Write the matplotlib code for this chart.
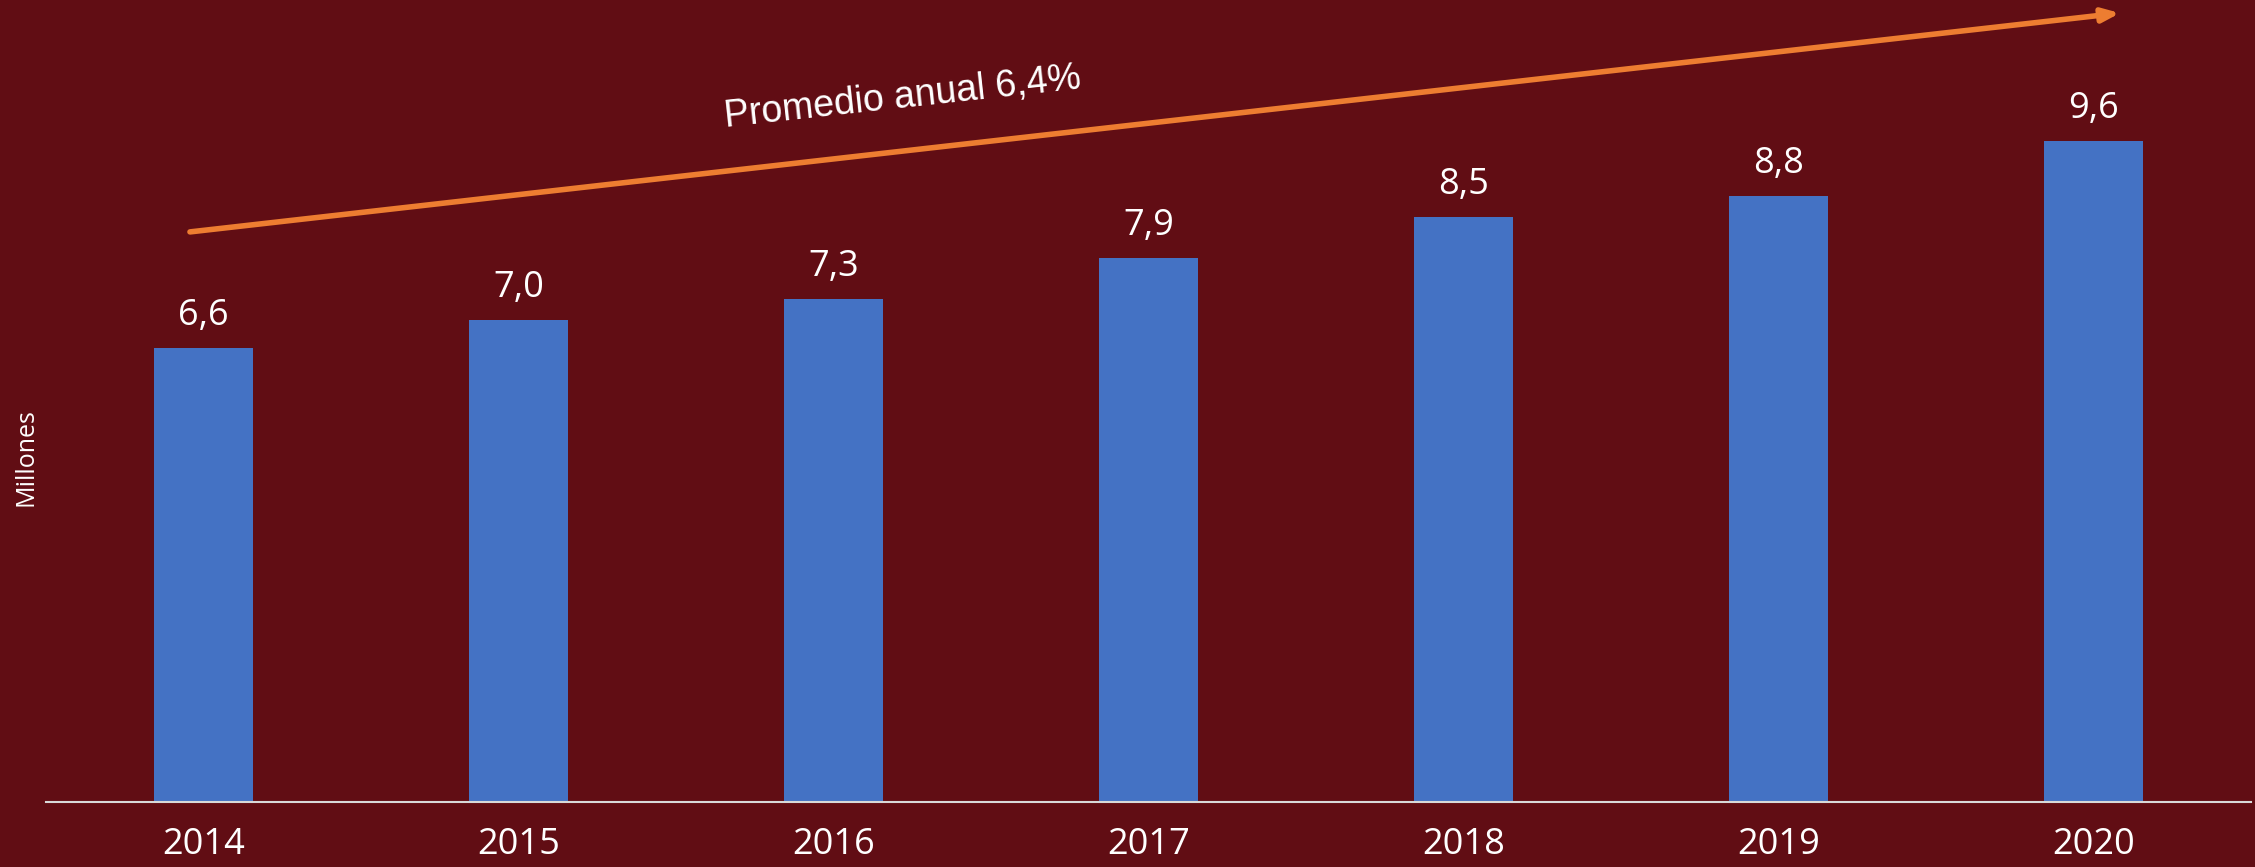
import matplotlib
matplotlib.use("Agg")
import matplotlib.pyplot as plt
import numpy as np

# --- Data ---
years = ["2014", "2015", "2016", "2017", "2018", "2019", "2020"]
values = [6.6, 7.0, 7.3, 7.9, 8.5, 8.8, 9.6]
value_labels = ["6,6", "7,0", "7,3", "7,9", "8,5", "8,8", "9,6"]
trend_text = "Promedio anual 6,4%"
y_label = "Millones"

# --- Style ---
BG = "#610D14"
BAR = "#4472C4"
ARROW = "#ED7D31"
TEXT = "white"

fig = plt.figure(figsize=(22.55, 8.67), dpi=100, facecolor=BG)
ax = fig.add_axes([46 / 2255, 65.3 / 867, 2205 / 2255, 801.7 / 867])
ax.set_facecolor(BG)

x = np.arange(len(years))
ax.bar(x, values, width=0.314, color=BAR, zorder=2)

for xi, v, lab in zip(x, values, value_labels):
    ax.annotate(lab, (xi, v), xytext=(0, 10), textcoords="offset points",
                ha="center", va="bottom", color=TEXT, fontsize=26, family="Open Sans")

ax.set_xlim(-0.5, 6.5)
ax.set_ylim(0, 11.65)
ax.set_xticks(x)
ax.set_xticklabels(years, fontsize=26, color=TEXT, family="Open Sans")
ax.tick_params(axis="x", length=0, pad=18)
ax.set_yticks([])
for side in ["top", "right", "left"]:
    ax.spines[side].set_visible(False)
ax.spines["bottom"].set_color("#D9D9D9")
ax.spines["bottom"].set_linewidth(1.5)

# trend arrow
ax.annotate("", xy=(6.084, 11.46), xytext=(-0.043, 8.28),
            arrowprops=dict(arrowstyle="-|>,head_length=1.0,head_width=0.4",
                            color=ARROW, lw=4, shrinkA=0, shrinkB=0),
            annotation_clip=False)
ax.text(2.22, 10.23, trend_text, rotation=6.2, ha="center", va="center",
        color=TEXT, fontsize=27, family="Liberation Sans")

fig.text(26 / 2255, 1 - 457 / 867, y_label, rotation=90, ha="center", va="center",
         color=TEXT, fontsize=18, family="Open Sans")

fig.savefig("out.png", dpi=100, facecolor=BG)
